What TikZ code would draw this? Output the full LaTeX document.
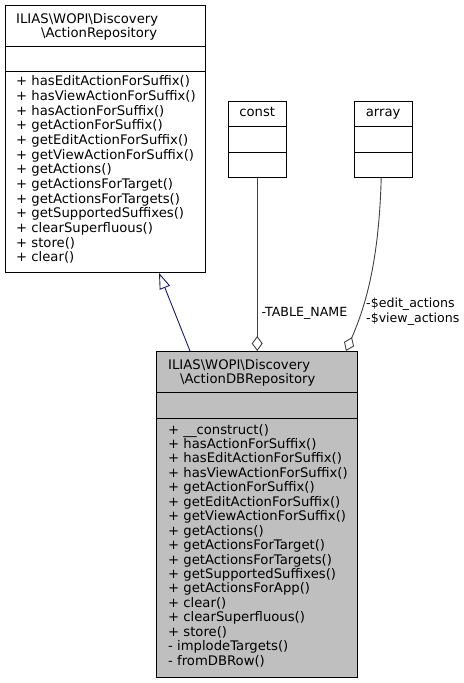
\documentclass[tikz,border=0pt]{standalone}
\usepackage{fontspec}
\setmainfont{DejaVu Sans}
\usetikzlibrary{arrows.meta,calc}
\definecolor{edgeBlue}{RGB}{25,25,112}
\definecolor{edgeGrey}{RGB}{64,64,64}
\definecolor{clsFill}{RGB}{191,191,191}
\tikzset{
  cls/.style={draw=black, line width=0.9bp, inner sep=0pt, anchor=north west},
  sep/.style={draw=black, line width=0.9bp},
  txt/.style={font=\fontsize{13.2bp}{14bp}\selectfont, inner sep=0pt, anchor=base west},
  ctxt/.style={font=\fontsize{13.2bp}{14bp}\selectfont, inner sep=0pt, anchor=base},
  lbl/.style={font=\fontsize{12.6bp}{14bp}\selectfont, inner sep=0pt, anchor=base west},
  inh/.style={-{Triangle[open, length=16bp, width=11bp]}, draw=edgeBlue, line width=0.9bp},
  agg/.style={-{Diamond[open, length=15bp, width=11bp]}, draw=edgeGrey, line width=0.9bp},
}
\newcommand{\bs}{\textbackslash}

\begin{document}
\begin{tikzpicture}[x=1bp, y=-1bp]
\useasboundingbox (0,0) rectangle (464,683);

% base class
\node[cls, minimum width=200bp, minimum height=267bp] (repo) at (5,5) {};
\draw[sep] ($(repo.north west)+(0,41)$) -- ($(repo.north east)+(0,41)$);
\draw[sep] ($(repo.north west)+(0,66)$) -- ($(repo.north east)+(0,66)$);
\node[txt] (repoT1) at (16,23.3) {ILIAS\bs WOPI\bs Discovery};
\node[txt] (repoT2) at (41,37.3) {\bs ActionRepository};
\foreach \m [count=\i from 0] in {hasEditActionForSuffix(), hasViewActionForSuffix(),
    hasActionForSuffix(), getActionForSuffix(), getEditActionForSuffix(),
    getViewActionForSuffix(), getActions(), getActionsForTarget(),
    getActionsForTargets(), getSupportedSuffixes(), clearSuperfluous(),
    store(), clear()}
  \node[txt] (repoM\i) at (16,86+14.64*\i) {+ \m};

% const / array
\foreach \n/\t/\x in {constc/const/228, arr/array/354} {
  \node[cls, minimum width=57.5bp, minimum height=76bp] (\n) at (\x,101) {};
  \draw[sep] ($(\n.north west)+(0,25)$) -- ($(\n.north east)+(0,25)$);
  \draw[sep] ($(\n.north west)+(0,51)$) -- ($(\n.north east)+(0,51)$);
  \node[ctxt] (\n T) at ($(\n.north)+(0,16)$) {\t};
}

% derived class
\node[cls, fill=clsFill, minimum width=201bp, minimum height=326bp] (dbrepo) at (156,351) {};
\draw[sep] ($(dbrepo.north west)+(0,41)$) -- ($(dbrepo.north east)+(0,41)$);
\draw[sep] ($(dbrepo.north west)+(0,67)$) -- ($(dbrepo.north east)+(0,67)$);
\node[txt] (dbT1) at (168,369.5) {ILIAS\bs WOPI\bs Discovery};
\node[txt] (dbT2) at (180,383) {\bs ActionDBRepository};
\foreach \s/\m [count=\i from 0] in {+/\_\_construct(), +/hasActionForSuffix(),
    +/hasEditActionForSuffix(), +/hasViewActionForSuffix(), +/getActionForSuffix(),
    +/getEditActionForSuffix(), +/getViewActionForSuffix(), +/getActions(),
    +/getActionsForTarget(), +/getActionsForTargets(), +/getSupportedSuffixes(),
    +/getActionsForApp(), +/clear(), +/clearSuperfluous(), +/store(),
    -/implodeTargets(), -/fromDBRow()}
  \node[txt] (dbM\i) at (168,434+14.45*\i) {\s\ \m};

% edges
\draw[inh] ($(dbrepo.north west)+(34,0)$) -- ($(repo.south west)+(154,0)$);
\draw[agg] (constc.south) -- (constc.south |- dbrepo.north);
\draw[agg] ($(arr.south)+(-2,0)$) .. controls (379,260) and (366,305) .. ($(dbrepo.north west)+(190,0)$);

% labels
\node[lbl] (lblConst) at (261.5,316) {-TABLE\_NAME};
\node[lbl] (lblArr1) at (366,307.5) {-\$edit\_actions};
\node[lbl] (lblArr2) at (366,322) {-\$view\_actions};
\end{tikzpicture}
\end{document}
